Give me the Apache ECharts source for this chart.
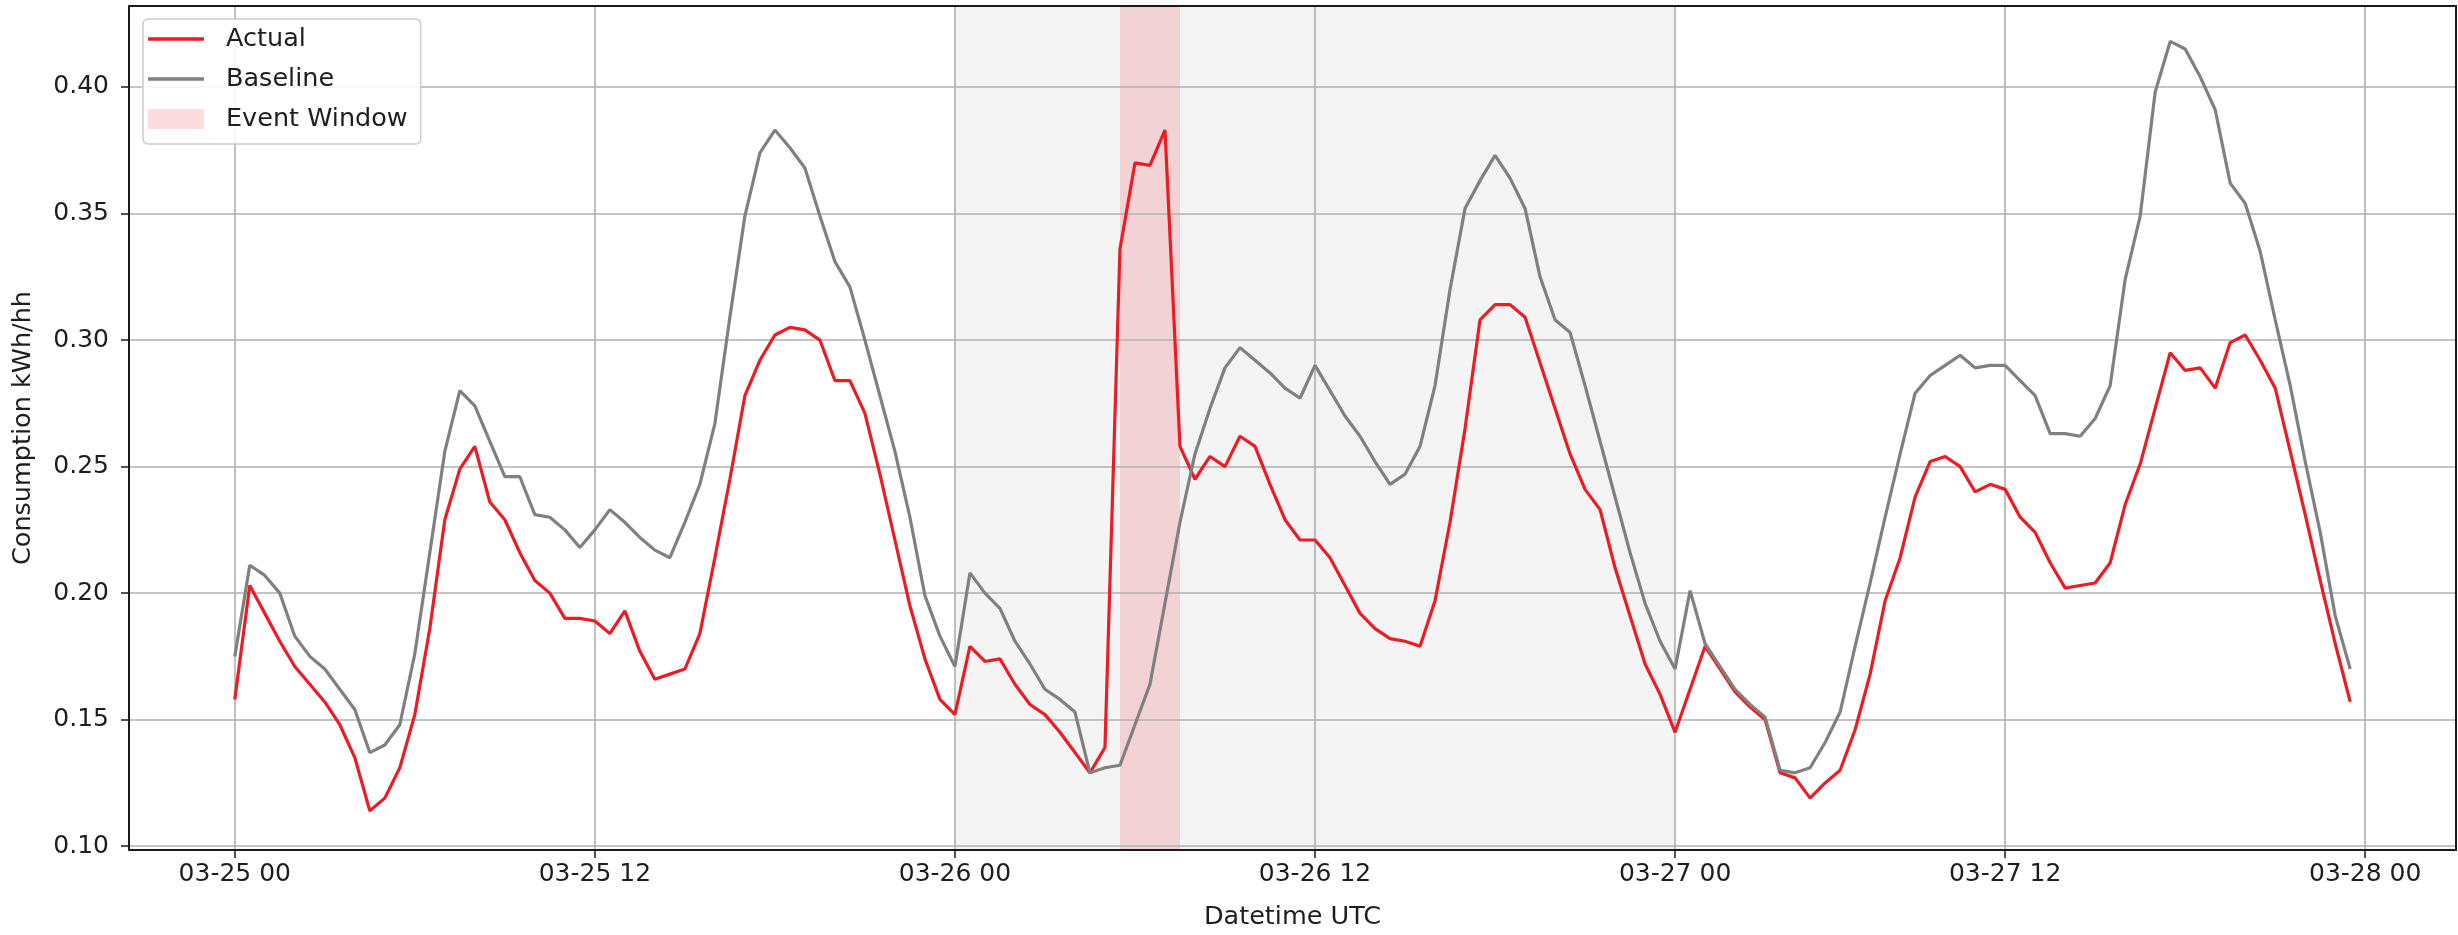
<!DOCTYPE html>
<html>
<head>
<meta charset="utf-8">
<script src="https://cdn.jsdelivr.net/npm/echarts@6/dist/echarts.min.js"></script>
<style>
html,body{margin:0;padding:0;background:#fff;}
#c{width:2458px;height:935px;}
</style>
</head>
<body>
<div id="c"></div>
<script>
// Half-hourly readings, 03-25 00:00 UTC onward (plotted by sample index)
const actual = [
  0.158,0.203,0.192,0.181,0.171,0.164,0.157,0.148,0.135,0.114,0.119,0.131,0.152,0.186,0.229,0.249,
  0.258,0.236,0.229,0.216,0.205,0.200,0.190,0.190,0.189,0.184,0.193,0.177,0.166,0.168,0.170,0.184,
  0.214,0.245,0.278,0.292,0.302,0.305,0.304,0.300,0.284,0.284,0.271,0.247,0.221,0.195,0.174,0.158,
  0.152,0.179,0.173,0.174,0.164,0.156,0.152,0.145,0.137,0.129,0.139,0.336,0.370,0.369,0.383,0.258,
  0.245,0.254,0.250,0.262,0.258,0.243,0.229,0.221,0.221,0.214,0.203,0.192,0.186,0.182,0.181,0.179,
  0.197,0.228,0.265,0.308,0.314,0.314,0.309,0.291,0.273,0.255,0.241,0.233,0.210,0.191,0.172,0.160,
  0.145,0.162,0.179,0.170,0.161,0.155,0.150,0.129,0.127,0.119,0.125,0.130,0.146,0.168,0.197,0.214,
  0.238,0.252,0.254,0.250,0.240,0.243,0.241,0.230,0.224,0.212,0.202,0.203,0.204,0.212,0.235,0.251,
  0.273,0.295,0.288,0.289,0.281,0.299,0.302,0.292,0.281,0.256,0.231,0.205,0.180,0.157
];
const baseline = [
  0.175,0.211,0.207,0.200,0.183,0.175,0.170,0.162,0.154,0.137,0.140,0.148,0.176,0.216,0.256,0.280,
  0.274,0.260,0.246,0.246,0.231,0.230,0.225,0.218,0.225,0.233,0.228,0.222,0.217,0.214,0.228,0.243,
  0.267,0.309,0.349,0.374,0.383,0.376,0.368,0.349,0.331,0.321,0.300,0.278,0.256,0.230,0.199,0.183,
  0.171,0.208,0.200,0.194,0.181,0.172,0.162,0.158,0.153,0.129,0.131,0.132,0.148,0.164,0.196,0.228,
  0.255,0.273,0.289,0.297,0.292,0.287,0.281,0.277,0.290,0.280,0.270,0.262,0.252,0.243,0.247,0.258,
  0.282,0.320,0.352,0.363,0.373,0.364,0.352,0.325,0.308,0.303,0.282,0.260,0.238,0.216,0.196,0.181,
  0.170,0.201,0.180,0.171,0.162,0.156,0.151,0.130,0.129,0.131,0.141,0.153,0.179,0.204,0.230,0.255,
  0.279,0.286,0.290,0.294,0.289,0.290,0.290,0.284,0.278,0.263,0.263,0.262,0.269,0.282,0.324,0.349,
  0.398,0.418,0.415,0.404,0.391,0.362,0.354,0.335,0.308,0.282,0.252,0.224,0.191,0.170
];
// x tick positions (sample index) and their labels
const xTickPositions = [0, 24, 48, 72, 96, 118, 142];
const xTickLabels = ['03-25 00','03-25 12','03-26 00','03-26 12','03-27 00','03-27 12','03-28 00'];
const yTicks = [0.10, 0.15, 0.20, 0.25, 0.30, 0.35, 0.40];
// shaded spans (sample index)
const daySpan = [48, 96];
const eventSpan = [59, 63];

const FONT = 'DejaVu Sans';
const TXT = '#1e1e1e';
const AXC = '#1a1a1a';
const GRIDC = '#b0b0b0';
const RED = '#ec1c24';
const GRAY = '#808080';
const PINK = 'rgba(238,40,55,0.16)';
const SHADE = 'rgba(128,128,128,0.085)';
const LINE_ICON = 'path://M0,0 M56,20 M0,8.3 L56,8.3 L56,11.7 L0,11.7 Z';

const chart = echarts.init(document.getElementById('c'), null, {renderer: 'canvas'});
chart.setOption({
  animation: false,
  backgroundColor: '#ffffff',
  textStyle: {fontFamily: FONT},
  grid: {left: 129, right: 2, top: 6, bottom: 79, show: true, borderColor: AXC, borderWidth: 2, z: 3},
  legend: {
    orient: 'vertical', left: 143, top: 19,
    padding: [5, 13, 10, 5], itemGap: 10, itemWidth: 56, itemHeight: 20,
    backgroundColor: 'rgba(255,255,255,0.85)', borderColor: '#cccccc', borderWidth: 1.5, borderRadius: 5,
    textStyle: {fontSize: 25.5, color: TXT, fontFamily: FONT, lineHeight: 30, padding: [0, 0, 0, 17]},
    data: [
      {name: 'Actual', icon: LINE_ICON, itemStyle: {color: RED}},
      {name: 'Baseline', icon: LINE_ICON, itemStyle: {color: GRAY}},
      {name: 'Event Window', icon: 'rect', itemStyle: {color: PINK}}
    ]
  },
  xAxis: {
    type: 'value', min: -7.05, max: 148.05, z: 1,
    axisLine: {show: true, onZero: false, lineStyle: {color: AXC, width: 2}},
    axisTick: {show: true, length: 8, customValues: xTickPositions, lineStyle: {color: AXC, width: 1.5}},
    axisLabel: {
      customValues: xTickPositions,
      formatter: function (v) { const i = xTickPositions.indexOf(Math.round(v)); return i >= 0 ? xTickLabels[i] : ''; },
      fontSize: 25, color: TXT, margin: 12, fontFamily: FONT
    },
    splitLine: {show: true, lineStyle: {color: GRIDC, width: 1.6}},
    name: 'Datetime UTC', nameLocation: 'middle', nameGap: 54,
    nameTextStyle: {fontSize: 25.5, color: TXT, fontFamily: FONT}
  },
  yAxis: {
    type: 'value', min: 0.0985, max: 0.432, z: 1,
    axisLine: {show: true, onZero: false, lineStyle: {color: AXC, width: 2}},
    axisTick: {show: true, length: 8, customValues: yTicks, lineStyle: {color: AXC, width: 1.5}},
    axisLabel: {
      customValues: yTicks,
      formatter: function (v) { return v.toFixed(2); },
      fontSize: 25, color: TXT, margin: 20, fontFamily: FONT
    },
    splitLine: {show: true, lineStyle: {color: GRIDC, width: 1.6}},
    name: 'Consumption kWh/hh', nameLocation: 'middle', nameGap: 93, nameRotate: 90,
    nameTextStyle: {fontSize: 25.5, color: TXT, fontFamily: FONT}
  },
  series: [
    {
      name: 'Actual', type: 'line', symbol: 'none', z: 2,
      data: actual.map(function (v, i) { return [i, v]; }),
      lineStyle: {color: RED, width: 3.2}, itemStyle: {color: RED},
      markArea: {
        silent: true, z: 0,
        data: [
          [{xAxis: daySpan[0], itemStyle: {color: SHADE}}, {xAxis: daySpan[1]}],
          [{xAxis: eventSpan[0], itemStyle: {color: PINK}}, {xAxis: eventSpan[1]}]
        ]
      }
    },
    {
      name: 'Baseline', type: 'line', symbol: 'none', z: 2,
      data: baseline.map(function (v, i) { return [i, v]; }),
      lineStyle: {color: GRAY, width: 3.2}, itemStyle: {color: GRAY}
    },
    {
      name: 'Event Window', type: 'line', symbol: 'none', data: [],
      itemStyle: {color: PINK}, lineStyle: {color: PINK}
    }
  ]
});
</script>
</body>
</html>
